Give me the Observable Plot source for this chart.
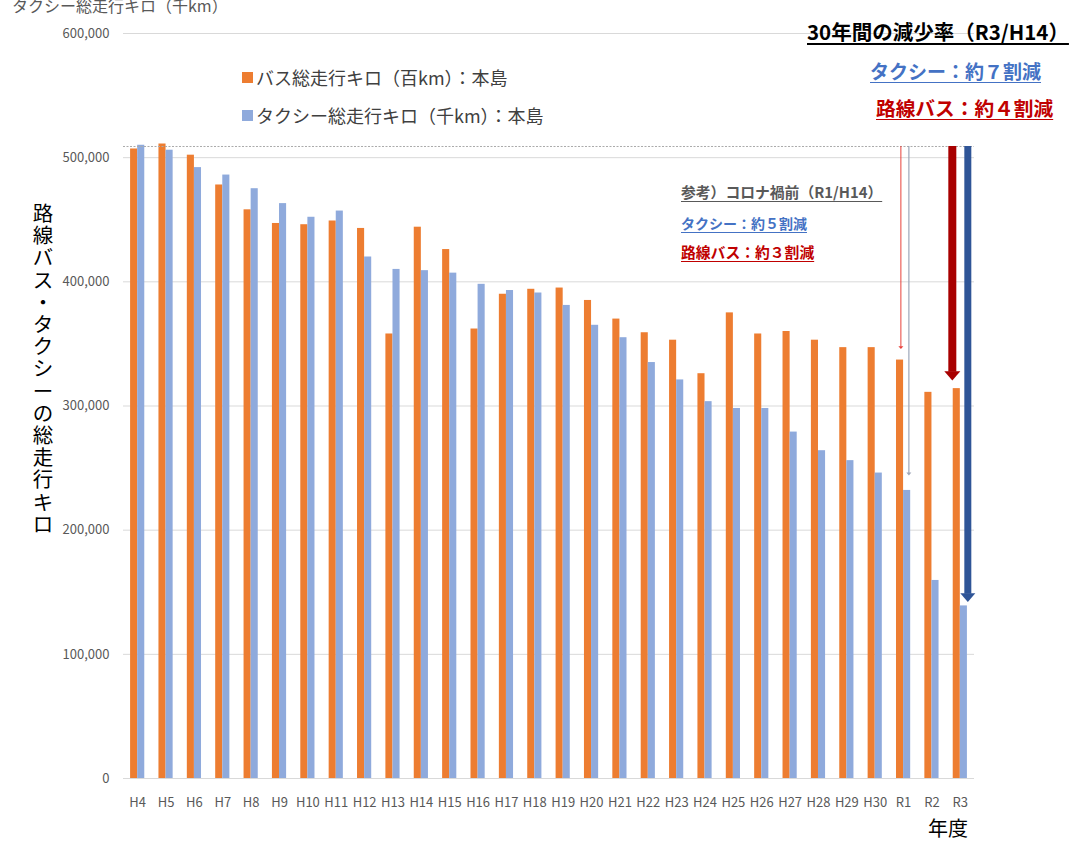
<!DOCTYPE html>
<html><head><meta charset="utf-8">
<script src="https://cdn.jsdelivr.net/npm/d3@7"></script>
<script src="https://cdn.jsdelivr.net/npm/@observablehq/plot@0.6"></script>
<style>
html,body{margin:0;padding:0;background:#fff;}
body{width:1071px;height:841px;position:relative;overflow:hidden;font-family:"Noto Sans CJK JP","Noto Sans",sans-serif;}
#chart{position:absolute;left:0;top:0;}
.t{position:absolute;white-space:nowrap;line-height:1;}
.u{text-decoration:underline;text-underline-offset:3px;}
</style></head>
<body>
<div id="chart"></div>
<script>
const years = ["H4","H5","H6","H7","H8","H9","H10","H11","H12","H13","H14","H15","H16","H17","H18","H19","H20","H21","H22","H23","H24","H25","H26","H27","H28","H29","H30","R1","R2","R3"];
const busKm = [507000,511000,502000,478000,458000,447000,446000,449000,443000,358000,444000,426000,362000,390000,394000,395000,385000,370000,359000,353000,326000,375000,358000,360000,353000,347000,347000,337000,311000,314000];
const taxiKm = [510000,506000,492000,486000,475000,463000,452000,457000,420000,410000,409000,407000,398000,393000,391000,381000,365000,355000,335000,321000,303500,298000,298000,279000,264000,256000,246000,232000,159500,139000];
const yTicks = [0,100000,200000,300000,400000,500000,600000];
const seriesNames = ["バス総走行キロ（百km）：本島","タクシー総走行キロ（千km）：本島"];
const yLabel = "路線バス・タクシーの総走行キロ";
const xLabel = "年度";
const topLeftLabel = "タクシー総走行キロ（千km）";
const arrowTop = 509000;

const data = years.map((y,i)=>({year:y,bus:busKm[i],taxi:taxiKm[i]}));
const val = (arr, y) => arr[years.indexOf(y)];

const W = 1071, ML = 123, MR = 97;
const step = (W - ML - MR) / years.length;
const barW = step / 4;

// flat down-pointing triangle symbol
const headSymbol = {draw(ctx,size){const s=Math.sqrt(size);const h=s*0.58;ctx.moveTo(-s/2,-h/2);ctx.lineTo(s/2,-h/2);ctx.lineTo(0,h/2);ctx.closePath();}};

function arrow(year, value, {dx, color, width, headW, gap}){
  const headH = headW*0.58;
  const r = headW/Math.sqrt(Math.PI);
  const d = [{year, value}];
  return [
    Plot.ruleX(d,{x:"year",y1:()=>arrowTop,y2:"value",dx,stroke:color,strokeWidth:width,insetBottom:gap+headH-1}),
    Plot.dot(d,{x:"year",y:"value",dx,dy:-(gap+headH/2),r,symbol:headSymbol,fill:color,stroke:"none"})
  ];
}

const plot = Plot.plot({
  width:W, height:841,
  marginLeft:ML, marginRight:MR, marginTop:33, marginBottom:63,
  style:{fontFamily:'"Noto Sans CJK JP","Noto Sans",sans-serif',fontSize:"13px",color:"#595959",background:"transparent"},
  x:{domain:years,padding:0,round:false,label:null,tickSize:0,tickPadding:19},
  y:{domain:[0,600000],ticks:yTicks,tickFormat:d3.format(","),label:null,tickSize:0,tickPadding:14},
  marks:[
    Plot.ruleY(yTicks,{stroke:"#d9d9d9",strokeWidth:1}),
    Plot.barY(data,{x:"year",y:"bus",fill:"#ED7D31",insetLeft:barW,insetRight:2*barW}),
    Plot.barY(data,{x:"year",y:"taxi",fill:"#8FAADC",insetLeft:2*barW,insetRight:barW}),
    Plot.ruleY([arrowTop],{stroke:"#aaaaaa",strokeDasharray:"2,1.5",strokeWidth:1}),
    ...arrow("R1", val(busKm,"R1"), {dx:-2.7,color:"#E8403A",width:1,headW:5,gap:11}),
    ...arrow("R1", val(taxiKm,"R1"), {dx:5.3,color:"#9DA6B8",width:1.2,headW:5,gap:15}),
    ...arrow("R3", val(busKm,"R3"), {dx:-8,color:"#A80000",width:8,headW:16,gap:8}),
    ...arrow("R3", val(taxiKm,"R3"), {dx:7.5,color:"#2F5597",width:7,headW:15,gap:4})
  ]
});
document.getElementById("chart").appendChild(plot);

function addText(txt, css){const d=document.createElement("div");d.className="t";d.textContent=txt;Object.assign(d.style,css);document.body.appendChild(d);return d;}

addText(topLeftLabel,{left:"12px",top:"-3px",fontSize:"16px",color:"#595959"});
// legend
const legColors = ["#ED7D31","#8FAADC"];
seriesNames.forEach((n,i)=>{
  const yc = 77 + i*38;
  const sq=document.createElement("div");
  Object.assign(sq.style,{position:"absolute",left:"242px",top:(yc-5.5)+"px",width:"11px",height:"11px",background:legColors[i]});
  document.body.appendChild(sq);
  addText(n,{left:"256px",top:(yc-9)+"px",fontSize:"18px",color:"#404040"});
});
// y label vertical
const yl=document.createElement("div");
Object.assign(yl.style,{position:"absolute",left:"32px",top:"201px",width:"22px",fontSize:"20.5px",lineHeight:"22.2px",color:"#000",textAlign:"center"});
yl.innerHTML=[...yLabel].join("<br>");
document.body.appendChild(yl);
addText(xLabel,{left:"928px",top:"818px",fontSize:"20px",color:"#000"});

// annotations
const t1=addText("30年間の減少率（R3/H14）",{left:"807px",top:"21px",fontSize:"20.5px",fontWeight:"bold",color:"#000"});t1.classList.add("u");
const t2=addText("タクシー：約７割減",{left:"870px",top:"61px",fontSize:"19px",fontWeight:"bold",color:"#4472C4"});t2.classList.add("u");
const t3=addText("路線バス：約４割減",{left:"876px",top:"98px",fontSize:"19.7px",fontWeight:"bold",color:"#C00000"});t3.classList.add("u");
const m1=addText("参考）コロナ禍前（R1/H14）",{left:"681px",top:"185px",fontSize:"14.8px",fontWeight:"bold",color:"#595959"});m1.classList.add("u");
const m2=addText("タクシー：約５割減",{left:"681px",top:"216px",fontSize:"14px",fontWeight:"bold",color:"#4472C4"});m2.classList.add("u");
const m3=addText("路線バス：約３割減",{left:"681px",top:"245px",fontSize:"14.8px",fontWeight:"bold",color:"#C00000"});m3.classList.add("u");
</script>
</body></html>
